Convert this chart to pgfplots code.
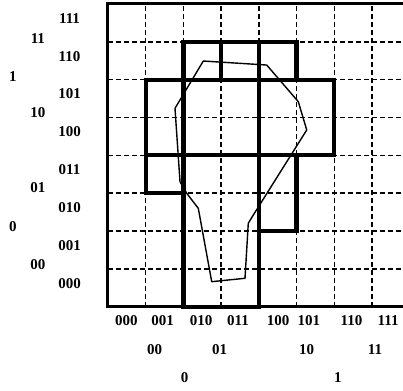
\documentclass[border=0pt]{standalone}
\usepackage{fontspec}
\setmainfont{Liberation Serif}
\usepackage{pgfplots}
\pgfplotsset{compat=1.18}
\tikzset{lbl/.style={font=\fontsize{15}{15}\selectfont\bfseries, inner sep=0pt}}
\begin{document}
\begin{tikzpicture}
\begin{axis}[
  at={(0,0)}, anchor=south west,
  scale only axis, width=301.6pt, height=302.7pt,
  xmin=0, xmax=8, ymin=0, ymax=8,
  xtick={1,...,7}, ytick={1,...,7},
  xticklabels={}, yticklabels={},
  major tick length=0pt,
  grid=major,
  major grid style={black, line width=1.4pt, dash pattern=on 5pt off 3pt},
  axis line style={line width=3pt},
  clip=false,
]
% thick rectangles
\addplot[black, line width=4.2pt, line join=miter] coordinates {(2,0) (4,0) (4,7) (2,7)} -- cycle;
\addplot[black, line width=4.2pt, line join=miter] coordinates {(2,6) (5,6) (5,7) (2,7)} -- cycle;
\addplot[black, line width=4.2pt, line join=miter] coordinates {(3,6) (3,7)};
\addplot[black, line width=4.2pt, line join=miter] coordinates {(1,4) (6,4) (6,6) (1,6)} -- cycle;
\addplot[black, line width=4.2pt, line join=miter] coordinates {(1,3) (2,3) (2,4) (1,4)} -- cycle;
\addplot[black, line width=4.2pt, line join=miter] coordinates {(4,2) (5,2) (5,4) (4,4)} -- cycle;
% thin polygon
\addplot[black, line width=1.4pt, line join=round] coordinates {
 (2.528,6.493) (4.21,6.387) (5.048,5.418) (5.271,4.670) (3.854,2.423)
 (3.721,2.204) (3.634,0.751) (2.751,0.661) (2.395,2.600) (2.088,2.997)
 (1.910,3.303) (1.777,5.243)} -- cycle;
% y labels
\node[lbl] at (axis cs:-1.02,7.62) {111};
\node[lbl] at (axis cs:-1.02,6.62) {110};
\node[lbl] at (axis cs:-1.02,5.62) {101};
\node[lbl] at (axis cs:-1.02,4.62) {100};
\node[lbl] at (axis cs:-1.02,3.62) {011};
\node[lbl] at (axis cs:-1.02,2.62) {010};
\node[lbl] at (axis cs:-1.02,1.62) {001};
\node[lbl] at (axis cs:-1.02,0.62) {000};
\node[lbl] at (axis cs:-1.86,7.10) {11};
\node[lbl] at (axis cs:-1.86,5.12) {10};
\node[lbl] at (axis cs:-1.86,3.14) {01};
\node[lbl] at (axis cs:-1.86,1.10) {00};
\node[lbl] at (axis cs:-2.52,6.07) {1};
\node[lbl] at (axis cs:-2.52,2.11) {0};
% x labels
\node[lbl] at (axis cs:0.49,-0.37) {000};
\node[lbl] at (axis cs:1.45,-0.37) {001};
\node[lbl] at (axis cs:2.47,-0.37) {010};
\node[lbl] at (axis cs:3.45,-0.37) {011};
\node[lbl] at (axis cs:4.51,-0.37) {100};
\node[lbl] at (axis cs:5.33,-0.37) {101};
\node[lbl] at (axis cs:6.46,-0.37) {110};
\node[lbl] at (axis cs:7.43,-0.37) {111};
\node[lbl] at (axis cs:1.24,-1.13) {00};
\node[lbl] at (axis cs:2.96,-1.13) {01};
\node[lbl] at (axis cs:5.27,-1.13) {10};
\node[lbl] at (axis cs:7.08,-1.13) {11};
\node[lbl] at (axis cs:2.03,-1.88) {0};
\node[lbl] at (axis cs:6.10,-1.88) {1};
\end{axis}
\pgfresetboundingbox
\path[use as bounding box] (-108pt,-83.3pt) rectangle (295pt,306.7pt);
\end{tikzpicture}
\end{document}
